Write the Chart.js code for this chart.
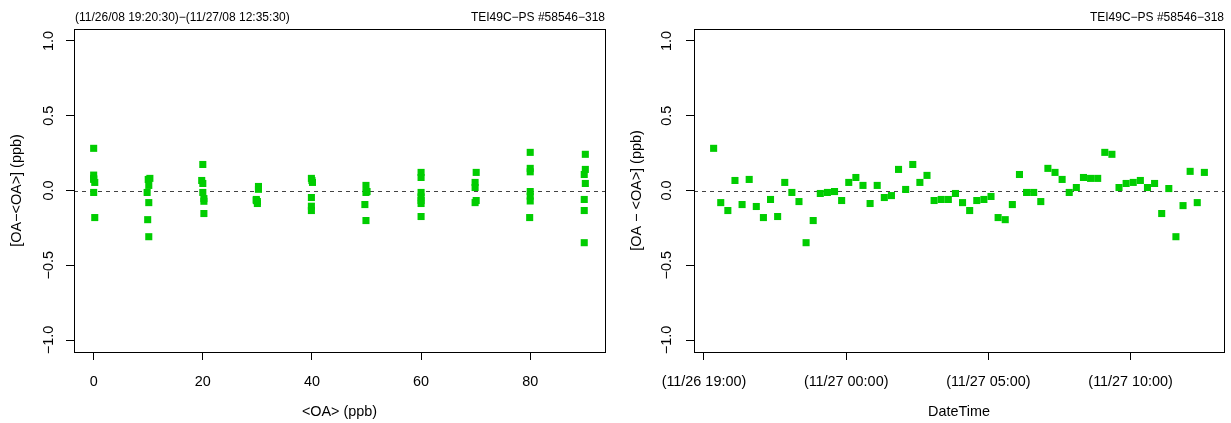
<!DOCTYPE html>
<html>
<head>
<meta charset="utf-8">
<script src="https://cdn.jsdelivr.net/npm/chart.js@4/dist/chart.umd.min.js"></script>
<style>
  body { margin: 0; background: #fff; }
  .panel { position: absolute; top: 0; height: 423px; }
</style>
</head>
<body>
<div class="panel" style="left:0;width:615px"><canvas id="chart-oa" width="615" height="423"></canvas></div>
<div class="panel" style="left:615px;width:616px"><canvas id="chart-time" width="616" height="423"></canvas></div>
<script>
// axis ticks
const levelTicks = [0, 20, 40, 60, 80];
const devTicks = [-1, -0.5, 0, 0.5, 1];
const timeTicks = ['11/26 19:00:00', '11/27 00:00:00', '11/27 05:00:00', '11/27 10:00:00'];
const timeTickLabels = ['(11/26 19:00)', '(11/27 00:00)', '(11/27 05:00)', '(11/27 10:00)'];

// left panel: deviation vs <OA> level
const oaLevels = [
  0.0, 0.0, 0.0, 0.0, 0.2, 0.0, 0.2,
  10.3, 10.0, 10.1, 9.8, 10.1, 9.9, 10.1,
  20.0, 19.8, 20.0, 20.0, 20.2, 20.2, 20.2,
  30.2, 30.2, 29.8, 29.8, 30.0, 30.0,
  39.9, 40.1, 40.0, 39.9, 39.9, 39.9,
  49.9, 50.1, 49.9, 49.7, 49.9,
  60.0, 60.0, 60.0, 60.0, 60.0, 60.0, 60.0,
  70.1, 69.9, 69.9, 70.1, 69.9,
  80.0, 80.0, 80.0, 80.0, 80.0, 80.0, 79.9,
  90.1, 90.1, 89.9, 90.1, 89.9, 89.9, 89.9
];
const oaDev = [
  0.282, 0.103, 0.081, 0.074, 0.054, -0.013, -0.181,
  0.081, 0.074, 0.034, -0.013, -0.081, -0.195, -0.309,
  0.174, 0.067, 0.047, -0.013, -0.054, -0.072, -0.154,
  0.027, 0.008, -0.060, -0.067, -0.074, -0.087,
  0.081, 0.054, 0.067, -0.047, -0.105, -0.134,
  0.034, -0.007, -0.013, -0.094, -0.201,
  0.121, 0.087, -0.013, -0.043, -0.067, -0.087, -0.174,
  0.121, 0.054, 0.020, -0.067, -0.081,
  0.255, 0.148, 0.125, -0.007, -0.038, -0.070, -0.181,
  0.242, 0.141, 0.107, 0.047, -0.060, -0.134, -0.349
];

// right panel: deviation vs time
const sampleTimes = [
  '11/26 19:20:30', '11/26 19:35:30', '11/26 19:50:30', '11/26 20:05:30', '11/26 20:20:30',
  '11/26 20:35:30', '11/26 20:50:30', '11/26 21:05:30', '11/26 21:20:30', '11/26 21:35:30',
  '11/26 21:50:30', '11/26 22:05:30', '11/26 22:20:30', '11/26 22:35:30', '11/26 22:50:30',
  '11/26 23:05:30', '11/26 23:20:30', '11/26 23:35:30', '11/26 23:50:30', '11/27 00:05:30',
  '11/27 00:20:30', '11/27 00:35:30', '11/27 00:50:30', '11/27 01:05:30', '11/27 01:20:30',
  '11/27 01:35:30', '11/27 01:50:30', '11/27 02:05:30', '11/27 02:20:30', '11/27 02:35:30',
  '11/27 02:50:30', '11/27 03:05:30', '11/27 03:20:30', '11/27 03:35:30', '11/27 03:50:30',
  '11/27 04:05:30', '11/27 04:20:30', '11/27 04:35:30', '11/27 04:50:30', '11/27 05:05:30',
  '11/27 05:20:30', '11/27 05:35:30', '11/27 05:50:30', '11/27 06:05:30', '11/27 06:20:30',
  '11/27 06:35:30', '11/27 06:50:30', '11/27 07:05:30', '11/27 07:20:30', '11/27 07:35:30',
  '11/27 07:50:30', '11/27 08:05:30', '11/27 08:20:30', '11/27 08:35:30', '11/27 08:50:30',
  '11/27 09:05:30', '11/27 09:20:30', '11/27 09:35:30', '11/27 09:50:30', '11/27 10:05:30',
  '11/27 10:20:30', '11/27 10:35:30', '11/27 10:50:30', '11/27 11:05:30', '11/27 11:20:30',
  '11/27 11:35:30', '11/27 11:50:30', '11/27 12:05:30', '11/27 12:20:30', '11/27 12:35:30'
];
const timeDev = [
  0.282, -0.081, -0.134, 0.067, -0.094, 0.074, -0.107, -0.181, -0.060, -0.174,
  0.054, -0.013, -0.074, -0.349, -0.201, -0.020, -0.013, -0.007, -0.067, 0.054,
  0.087, 0.034, -0.087, 0.034, -0.047, -0.034, 0.141, 0.007, 0.174, 0.054,
  0.101, -0.067, -0.060, -0.060, -0.020, -0.081, -0.134, -0.067, -0.060, -0.040,
  -0.181, -0.195, -0.094, 0.107, -0.013, -0.013, -0.074, 0.148, 0.121, 0.074,
  -0.013, 0.020, 0.087, 0.081, 0.081, 0.255, 0.242, 0.020, 0.047, 0.054,
  0.067, 0.020, 0.047, -0.154, 0.013, -0.309, -0.101, 0.128, -0.081, 0.121
];

const POINT_COLOR = '#00CD00';
const FONT = '"Liberation Sans", Arial, Helvetica, sans-serif';

Chart.defaults.font.family = FONT;
Chart.defaults.color = '#000';

// hours since 11/26 00:00
function toHours(s) {
  const [d, t] = s.split(' ');
  const day = Number(d.split('/')[1]);
  const [h, m, sec] = t.split(':').map(Number);
  return (day - 26) * 24 + h + m / 60 + sec / 3600;
}

// R style 4% padding around the data range
function padRange(vals) {
  const lo = Math.min(...vals), hi = Math.max(...vals);
  const ext = (hi - lo) * 0.04;
  return [lo - ext, hi + ext];
}

const frame = {
  id: 'frame',
  beforeDatasetsDraw(chart) {
    const { ctx, chartArea: a, scales: { y } } = chart;
    const y0 = Math.round(y.getPixelForValue(0)) + 0.5;
    ctx.save();
    ctx.strokeStyle = '#444';
    ctx.lineWidth = 1;
    ctx.setLineDash([4, 4]);
    ctx.beginPath();
    ctx.moveTo(a.left, y0);
    ctx.lineTo(a.right, y0);
    ctx.stroke();
    ctx.restore();
  },
  afterDraw(chart, args, opts) {
    const { ctx, chartArea: a } = chart;
    ctx.save();
    ctx.strokeStyle = '#000';
    ctx.lineWidth = 1;
    ctx.strokeRect(a.left + 0.5, a.top + 0.5, a.right - a.left, a.bottom - a.top);
    ctx.font = '12px ' + FONT;
    ctx.fillStyle = '#000';
    ctx.textBaseline = 'middle';
    if (opts.leftText) {
      ctx.textAlign = 'left';
      ctx.fillText(opts.leftText, a.left + 1, 18);
    }
    if (opts.rightText) {
      ctx.textAlign = 'right';
      ctx.fillText(opts.rightText, a.right, 18);
    }
    ctx.restore();
  }
};

function yAxis(title, width, titlePad, tickPad) {
  return {
    min: -1.08, max: 1.08,
    afterBuildTicks: s => { s.ticks = devTicks.map(v => ({ value: v })); },
    afterFit: s => { s.width = width; },
    grid: { drawOnChartArea: false, drawTicks: true, tickLength: 8, color: '#000' },
    border: { display: false },
    ticks: {
      minRotation: 90, maxRotation: 90, crossAlign: 'center', padding: tickPad,
      font: { size: 14.4 },
      callback: v => v.toFixed(1).replace('-', '\u2212')
    },
    title: { display: true, text: title, font: { size: 14.4 }, padding: { top: titlePad } }
  };
}

function xAxis(title, range, tickVals, tickLabels) {
  return {
    type: 'linear', min: range[0], max: range[1],
    afterBuildTicks: s => { s.ticks = tickVals.map(v => ({ value: v })); },
    afterFit: s => { s.height = 71; },
    grid: { drawOnChartArea: false, drawTicks: true, tickLength: 8, color: '#000' },
    border: { display: false },
    ticks: {
      autoSkip: false, maxRotation: 0, minRotation: 0, padding: 13,
      font: { size: 14.4 },
      callback: (v, i) => tickLabels[i]
    },
    title: { display: true, text: title, font: { size: 14.4 }, padding: { bottom: 2 } }
  };
}

function scatterData(xs, ys) {
  return {
    datasets: [{
      data: xs.map((x, i) => ({ x, y: ys[i] })),
      backgroundColor: POINT_COLOR,
      borderWidth: 0,
      pointStyle: 'rect',
      pointRadius: 5,
      pointHoverRadius: 5
    }]
  };
}

new Chart(document.getElementById('chart-oa'), {
  type: 'scatter',
  data: scatterData(oaLevels, oaDev),
  options: {
    responsive: false,
    animation: false,
    events: [],
    layout: { padding: { top: 29, right: 10, bottom: 0, left: 0 } },
    plugins: {
      legend: { display: false },
      tooltip: { enabled: false },
      frame: {
        leftText: '(11/26/08 19:20:30)\u2212(11/27/08 12:35:30)',
        rightText: 'TEI49C\u2212PS #58546\u2212318'
      }
    },
    scales: {
      x: xAxis('<OA> (ppb)', padRange(oaLevels), levelTicks, levelTicks.map(String)),
      y: yAxis('[OA\u2212<OA>] (ppb)', 74, 8.5, 2.5)
    }
  },
  plugins: [frame]
});

const hours = sampleTimes.map(toHours);

new Chart(document.getElementById('chart-time'), {
  type: 'scatter',
  data: scatterData(hours, timeDev),
  options: {
    responsive: false,
    animation: false,
    events: [],
    layout: { padding: { top: 29, right: 7, bottom: 0, left: 0 } },
    plugins: {
      legend: { display: false },
      tooltip: { enabled: false },
      frame: { rightText: 'TEI49C\u2212PS #58546\u2212318' }
    },
    scales: {
      x: xAxis('DateTime', padRange(hours), timeTicks.map(toHours), timeTickLabels),
      y: yAxis('[OA \u2212 <OA>] (ppb)', 79, 13.5, 5)
    }
  },
  plugins: [frame]
});
</script>
</body>
</html>
